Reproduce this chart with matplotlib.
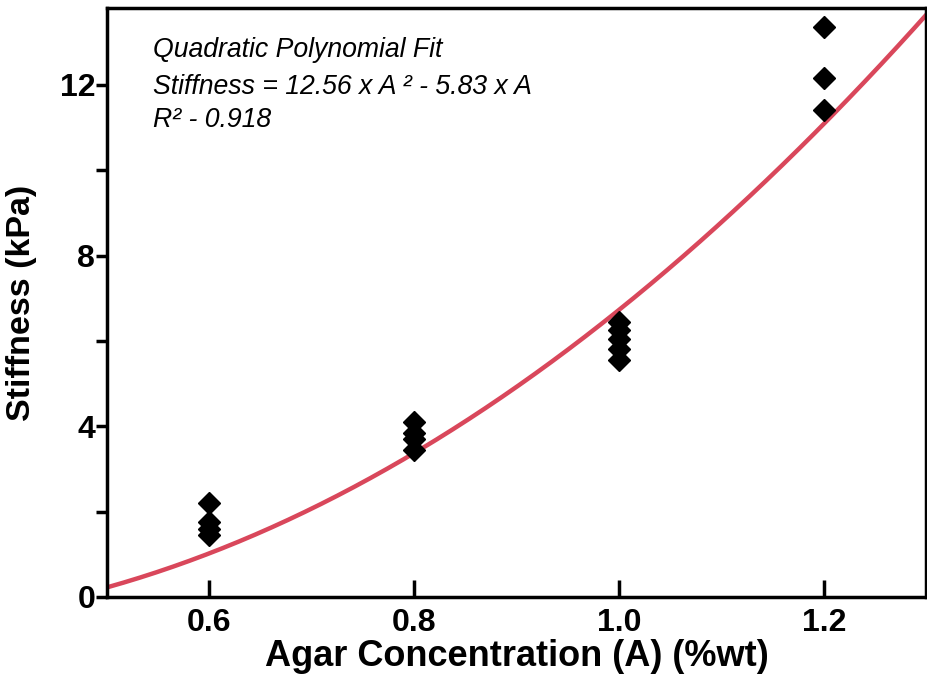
import matplotlib
matplotlib.use("Agg")
import matplotlib.pyplot as plt
import numpy as np

# Data
conc_06 = [0.6, 0.6, 0.6, 0.6]
stiff_06 = [2.2, 1.75, 1.6, 1.45]
conc_08 = [0.8, 0.8, 0.8, 0.8]
stiff_08 = [4.1, 3.85, 3.7, 3.45]
conc_10 = [1.0, 1.0, 1.0, 1.0, 1.0]
stiff_10 = [6.45, 6.25, 6.05, 5.8, 5.55]
conc_12 = [1.2, 1.2, 1.2]
stiff_12 = [13.35, 12.15, 11.4]
coef_a2 = 12.56
coef_a1 = -5.83

x = conc_06 + conc_08 + conc_10 + conc_12
y = stiff_06 + stiff_08 + stiff_10 + stiff_12

FAM = ["Liberation Sans", "DejaVu Sans"]

fig = plt.figure(figsize=(9.27, 6.84), dpi=100)
ax = fig.add_axes([0.1154, 0.1272, 0.884, 0.861])

xf = np.linspace(0.5, 1.3, 200)
ax.plot(xf, coef_a2 * xf**2 + coef_a1 * xf, color="#D9475B", lw=3.2, zorder=2)
ax.plot(x, y, "D", color="black", ms=11.5, zorder=3)

ax.set_xlim(0.5, 1.3)
ax.set_ylim(0, 13.8)
ax.set_xticks([0.6, 0.8, 1.0, 1.2])
ax.set_xticklabels(["0.6", "0.8", "1.0", "1.2"])
ax.set_yticks([0, 4, 8, 12])
ax.set_yticks([2, 6, 10], minor=True)

for lab in ax.get_xticklabels() + ax.get_yticklabels():
    lab.set_fontfamily(FAM)
    lab.set_fontweight("bold")
    lab.set_fontsize(23)

ax.tick_params(axis="x", direction="in", length=12, width=2.5, pad=8)
ax.tick_params(axis="y", which="major", direction="out", length=8, width=2.5, pad=0.5)
ax.tick_params(axis="y", which="minor", direction="out", length=8, width=2.5)
for s in ax.spines.values():
    s.set_linewidth(2.5)

bold = dict(family=FAM, weight="bold")
ax.set_xlabel("Agar Concentration (A) (%wt)", fontsize=26, labelpad=1, **bold)
ax.set_ylabel("Stiffness (kPa)", fontsize=24.5, labelpad=16, **bold)

it = dict(family=FAM, style="italic", fontsize=19.2)
ax.text(0.056, 0.929, "Quadratic Polynomial Fit", transform=ax.transAxes, va="center", **it)
ax.text(0.056, 0.866, "Stiffness = 12.56 x A \u00b2 - 5.83 x A", transform=ax.transAxes, va="center", **it)
ax.text(0.056, 0.81, "R\u00b2 - 0.918", transform=ax.transAxes, va="center", **it)

fig.savefig("out.png", dpi=100)
